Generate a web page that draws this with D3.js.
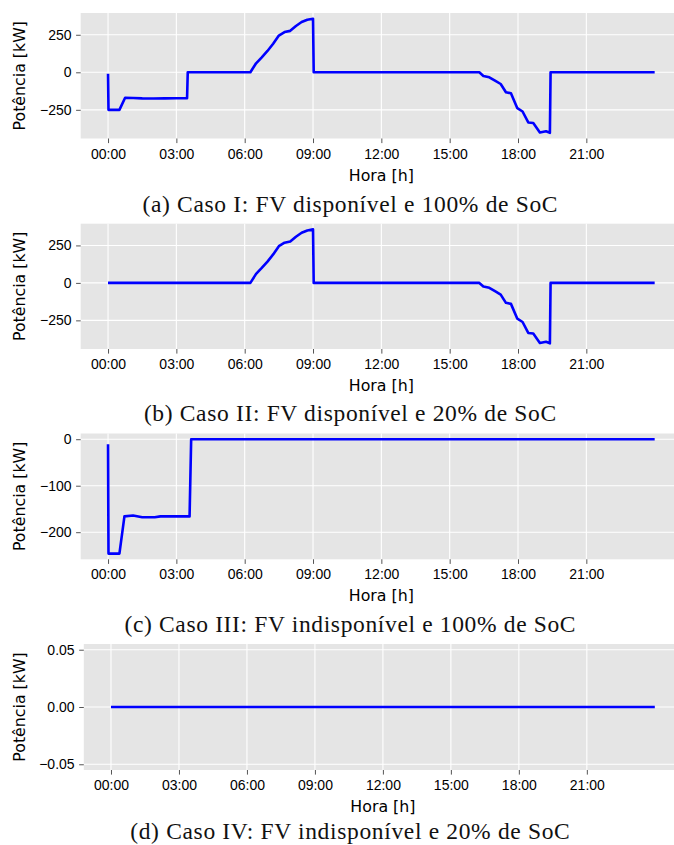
<!DOCTYPE html>
<html lang="pt">
<head>
    <meta charset="UTF-8">
    <script src="https://d3js.org/d3.v7.min.js"></script>
    <title>Potência da bateria - Casos I a IV</title>
    <style>
        body {
            margin: 0;
            background: #fff;
        }
        svg {
            display: block;
            font-family: "DejaVu Sans", sans-serif;
        }
        .tick line {
            stroke: #555;
        }
        .tick text {
            fill: #000;
            font-size: 14px;
        }
        .caption {
            font-family: "Liberation Serif", serif;
            font-size: 23.5px;
            fill: #111;
        }
    </style>
</head>
<body>
    <div id="chart"></div>

    <script>
        // Horas do dia (eixo x) e rótulos
        const xTickHours = [0, 3, 6, 9, 12, 15, 18, 21];
        const xTickLabels = ["00:00", "03:00", "06:00", "09:00", "12:00", "15:00", "18:00", "21:00"];

        // (a) Caso I: FV disponível e 100% de SoC
        const horaA = [0, 0.02, 0.5, 0.75, 1.1, 1.5, 2.0, 2.5, 3.0, 3.47, 3.5, 6.25, 6.5, 6.75, 7.0, 7.25, 7.5, 7.75, 8.0, 8.25, 8.5, 8.75, 9.0, 9.03,
            16.3, 16.48, 16.74, 16.99, 17.24, 17.47, 17.69, 17.97, 18.2, 18.45, 18.67, 18.96, 19.23, 19.4, 19.43, 24];
        const potA = [-10, -250, -250, -170, -171, -174, -175, -174, -173, -173, 0, 0, 60, 100, 142, 190, 245, 268, 276, 308, 335, 350, 357, 0,
            0, -24, -33, -55, -78, -133, -140, -239, -261, -334, -338, -401, -393, -403, 0, 0];

        // (b) Caso II: FV disponível e 20% de SoC
        const horaB = [0, 6.25, 6.5, 6.75, 7.0, 7.25, 7.5, 7.75, 8.0, 8.25, 8.5, 8.75, 9.0, 9.03,
            16.3, 16.48, 16.74, 16.99, 17.24, 17.47, 17.69, 17.97, 18.2, 18.45, 18.67, 18.96, 19.23, 19.4, 19.43, 24];
        const potB = [0, 0, 60, 100, 142, 190, 245, 268, 276, 308, 335, 350, 357, 0,
            0, -24, -33, -55, -78, -133, -140, -239, -261, -334, -338, -401, -393, -403, 0, 0];

        // (c) Caso III: FV indisponível e 100% de SoC
        const horaC = [0, 0.02, 0.5, 0.72, 1.1, 1.5, 2.05, 2.3, 3.0, 3.58, 3.65, 24];
        const potC = [-11, -246, -246, -166, -164, -168, -168, -166, -166, -166, 0, 0];

        // (d) Caso IV: FV indisponível e 20% de SoC
        const horaD = [0, 24];
        const potD = [0, 0];

        const yTicksA = [-250, 0, 250];
        const yTicksC = [-200, -100, 0];
        const yTicksD = [-0.05, 0, 0.05];

        const captions = [
            "(a) Caso I: FV disponível e 100% de SoC",
            "(b) Caso II: FV disponível e 20% de SoC",
            "(c) Caso III: FV indisponível e 100% de SoC",
            "(d) Caso IV: FV indisponível e 20% de SoC"
        ];

        const width = 674, height = 845;

        const panels = [
            { top: 13, bottom: 138.5, left: 80.7, hora: horaA, pot: potA, yTicks: yTicksA, fmt: d3.format("d"), capY: 212 },
            { top: 223.7, bottom: 349, left: 80.7, hora: horaB, pot: potB, yTicks: yTicksA, fmt: d3.format("d"), capY: 420.5 },
            { top: 433.5, bottom: 559.3, left: 80.7, hora: horaC, pot: potC, yTicks: yTicksC, fmt: d3.format("d"), capY: 631.5 },
            { top: 644, bottom: 770, left: 83.8, hora: horaD, pot: potD, yTicks: yTicksD, fmt: d3.format(".2f"), capY: 838.5 }
        ];
        const plotRight = 682; // the figure is cut at the right edge

        const svg = d3.select("#chart")
            .append("svg")
            .attr("width", width)
            .attr("height", height);

        panels.forEach((p, i) => {
            // matplotlib-like 5% margins
            const x = d3.scaleLinear().domain([-1.2, 25.2]).range([p.left, plotRight]);
            let [lo, hi] = d3.extent(p.pot);
            if (lo === hi) { lo = -0.055; hi = 0.055; }
            else { const pad = (hi - lo) * 0.05; lo -= pad; hi += pad; }
            const y = d3.scaleLinear().domain([lo, hi]).range([p.bottom, p.top]);

            const g = svg.append("g");

            g.append("rect")
                .attr("x", p.left)
                .attr("y", p.top)
                .attr("width", plotRight - p.left)
                .attr("height", p.bottom - p.top)
                .attr("fill", "#e5e5e5");

            // grid
            g.selectAll(".gx")
                .data(xTickHours)
                .join("line")
                .attr("x1", d => x(d)).attr("x2", d => x(d))
                .attr("y1", p.top).attr("y2", p.bottom)
                .attr("stroke", "#fff").attr("stroke-width", 1.1);
            g.selectAll(".gy")
                .data(p.yTicks)
                .join("line")
                .attr("x1", p.left).attr("x2", plotRight)
                .attr("y1", d => y(d)).attr("y2", d => y(d))
                .attr("stroke", "#fff").attr("stroke-width", 1.1);

            // axes
            const xAxis = g.append("g")
                .attr("transform", `translate(0,${p.bottom})`)
                .call(d3.axisBottom(x).tickValues(xTickHours)
                    .tickFormat((d, k) => xTickLabels[k])
                    .tickSize(4.6).tickPadding(5.5));
            xAxis.select(".domain").remove();
            xAxis.selectAll("text").attr("font-family", null).attr("font-size", null);

            const yAxis = g.append("g")
                .attr("transform", `translate(${p.left},0)`)
                .call(d3.axisLeft(y).tickValues(p.yTicks)
                    .tickFormat(p.fmt)
                    .tickSize(4.6).tickPadding(4.6));
            yAxis.select(".domain").remove();
            yAxis.selectAll("text").attr("font-family", null).attr("font-size", null);

            // line
            const line = d3.line()
                .x((d, k) => x(p.hora[k]))
                .y(d => y(d));
            g.append("path")
                .datum(p.pot)
                .attr("d", line)
                .attr("fill", "none")
                .attr("stroke", "#0000ff")
                .attr("stroke-width", 2.6)
                .attr("stroke-linejoin", "round");

            // axis labels
            g.append("text")
                .attr("transform", `translate(25,${(p.top + p.bottom) / 2}) rotate(-90)`)
                .attr("text-anchor", "middle")
                .attr("font-size", 15.8)
                .attr("fill", "#000")
                .text("Potência [kW]");

            g.append("text")
                .attr("x", (p.left + plotRight) / 2)
                .attr("y", p.bottom + 42)
                .attr("text-anchor", "middle")
                .attr("font-size", 15.8)
                .attr("fill", "#000")
                .text("Hora [h]");

            g.append("text")
                .attr("class", "caption")
                .attr("x", 350)
                .attr("y", p.capY)
                .attr("text-anchor", "middle")
                .text(captions[i]);
        });

        // stretch captions to the width of the LaTeX captions
        const capNodes = svg.selectAll(".caption").nodes();
        const scale = 415 / capNodes[0].getComputedTextLength();
        capNodes.forEach(n => {
            n.setAttribute("textLength", n.getComputedTextLength() * scale);
            n.setAttribute("lengthAdjust", "spacing");
        });
    </script>
</body>
</html>
